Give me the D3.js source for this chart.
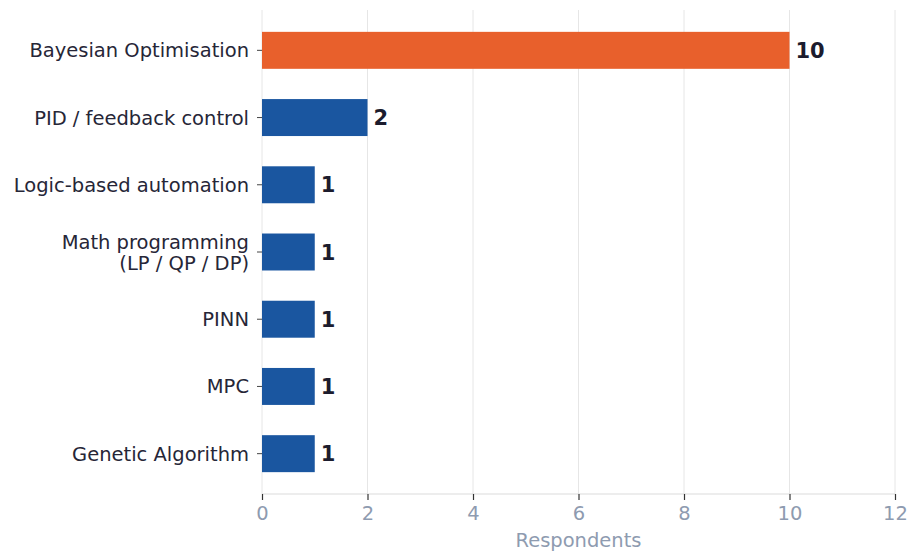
<!DOCTYPE html>
<html><head><meta charset="utf-8">
<script src="https://cdn.jsdelivr.net/npm/d3@7"></script>
<style>body{margin:0;background:#fff}svg{display:block}</style>
</head><body>
<svg id="chart" width="912" height="552"></svg>
<script>
const categories = ["Bayesian Optimisation","PID / feedback control","Logic-based automation","Math programming\n(LP / QP / DP)","PINN","MPC","Genetic Algorithm"];
const values = [10,2,1,1,1,1,1];
const highlight = [true,false,false,false,false,false,false];
const xTicks = [0,2,4,6,8,10,12];
const xLabel = "Respondents";

const svg = d3.select("#chart");
const m = {left:262, right:895, top:10, bottom:494};
const x = d3.scaleLinear().domain([0,12]).range([m.left, m.right]);
const y = d3.scaleBand().domain(categories).range([m.top, m.bottom]).paddingInner(0.45).paddingOuter(0.325);
const font = "DejaVu Sans, sans-serif";

// gridlines
svg.append("g").selectAll("line").data(xTicks).join("line")
  .attr("x1", d=>x(d)).attr("x2", d=>x(d)).attr("y1", m.top).attr("y2", m.bottom)
  .attr("stroke", "#e6e6e6").attr("stroke-width", 1);

// bottom spine
svg.append("line").attr("x1", m.left).attr("x2", m.right).attr("y1", m.bottom).attr("y2", m.bottom)
  .attr("stroke", "#dcdcdc").attr("stroke-width", 1.2);

// bars
svg.append("g").selectAll("rect").data(categories).join("rect")
  .attr("x", x(0)).attr("y", d=>y(d))
  .attr("width", (d,i)=>x(values[i])-x(0)).attr("height", y.bandwidth())
  .attr("fill", (d,i)=>highlight[i] ? "#E8602C" : "#1A56A0");

// value labels
svg.append("g").selectAll("text").data(categories).join("text")
  .attr("x", (d,i)=>x(values[i]) + 6).attr("y", d=>y(d)+y.bandwidth()/2)
  .attr("dy", "0.36em").attr("font-family", font).attr("font-size", 21).attr("font-weight", "bold")
  .attr("fill", "#1c1c2e").text((d,i)=>values[i]);

// x axis
const xAxis = d3.axisBottom(x).tickValues(xTicks).tickSize(6).tickPadding(6).tickFormat(d3.format("d"));
const gx = svg.append("g").attr("transform", `translate(0,${m.bottom})`).call(xAxis);
gx.select(".domain").remove();
gx.selectAll(".tick line").attr("stroke", "#333").attr("stroke-width", 1.2);
gx.selectAll(".tick text").attr("font-family", font).attr("font-size", 19.5).attr("fill", "#8e9bb0");

// y axis
const yAxis = d3.axisLeft(y).tickSize(5).tickPadding(9).tickFormat("");
const gy = svg.append("g").attr("transform", `translate(${m.left},0)`).call(yAxis);
gy.select(".domain").remove();
gy.selectAll(".tick line").attr("stroke", "#444").attr("stroke-width", 1);
gy.selectAll(".tick").each(function(d){
  const lines = d.split("\n");
  const t = d3.select(this).append("text")
    .attr("x", -13).attr("text-anchor", "end")
    .attr("font-family", font).attr("font-size", 19.5).attr("fill", "#262637");
  const lh = 21;
  lines.forEach((ln, k) => {
    t.append("tspan").attr("x", -13)
      .attr("y", (k - (lines.length-1)/2) * lh).attr("dy", "0.36em").text(ln);
  });
});

// axis label
svg.append("text").attr("x", (m.left+m.right)/2).attr("y", 546.5)
  .attr("text-anchor", "middle").attr("font-family", font).attr("font-size", 19.5)
  .attr("fill", "#8e9bb0").text(xLabel);
</script>
</body></html>
